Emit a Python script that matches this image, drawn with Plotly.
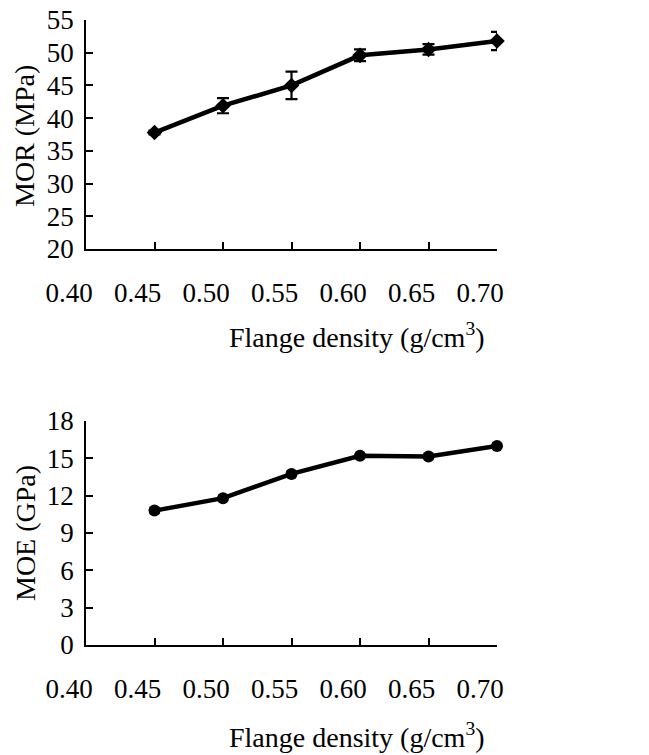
import plotly.graph_objects as go

density = [0.45, 0.50, 0.55, 0.60, 0.65, 0.70]
x_ticks = [0.40, 0.45, 0.50, 0.55, 0.60, 0.65, 0.70]
x_ticktext = ["0.40", "0.45", "0.50", "0.55", "0.60", "0.65", "0.70"]
mor = [37.8, 41.9, 45.0, 49.6, 50.5, 51.8]
mor_err = [0.3, 1.15, 2.1, 0.9, 0.8, 1.4]
moe = [10.8, 11.8, 13.75, 15.2, 15.15, 16.0]
moe_err = [0.2, 0.2, 0.2, 0.15, 0.15, 0.2]
mor_ticks = [20, 25, 30, 35, 40, 45, 50, 55]
moe_ticks = [0, 3, 6, 9, 12, 15, 18]

W, H = 649, 755
FONT = "Liberation Serif"
TICK = 27
TITLE = 28

fig = go.Figure()
fig.add_trace(go.Scatter(
    x=density, y=mor, mode="lines+markers", xaxis="x", yaxis="y",
    line=dict(color="black", width=4.5),
    marker=dict(symbol="diamond", size=12, color="black"),
    error_y=dict(type="data", array=mor_err, color="black", thickness=2.2, width=6),
    showlegend=False, cliponaxis=False))
fig.add_trace(go.Scatter(
    x=density, y=moe, mode="lines+markers", xaxis="x2", yaxis="y2",
    line=dict(color="black", width=4.5),
    marker=dict(symbol="circle", size=12, color="black"),
    error_y=dict(type="data", array=moe_err, color="black", thickness=2.2, width=5),
    showlegend=False, cliponaxis=False))

def xaxis(anchor):
    return dict(anchor=anchor, range=[0.40, 0.70], tickvals=x_ticks, ticktext=x_ticktext,
                ticks="inside", ticklen=7, tickwidth=1.8, tickcolor="black",
                showline=True, linecolor="black", linewidth=1.8, showgrid=False,
                zeroline=False, tickfont=dict(family=FONT, size=TICK, color="black"),
                ticklabelshift=-17, ticklabelstandoff=19)

def yaxis(anchor, rng, ticks, dom):
    return dict(anchor=anchor, range=rng, tickvals=ticks, domain=dom,
                ticks="inside", ticklen=7, tickwidth=1.8, tickcolor="black",
                showline=True, linecolor="black", linewidth=1.8, showgrid=False,
                zeroline=False, tickfont=dict(family=FONT, size=TICK, color="black"),
                ticklabelstandoff=5)

L, R = 86, 497
fig.update_layout(
    width=W, height=H, paper_bgcolor="white", plot_bgcolor="white",
    margin=dict(l=L, r=W - R, t=0, b=0, autoexpand=False),
    xaxis=xaxis("y"), xaxis2=xaxis("y2"),
    yaxis=yaxis("x", [20, 55], mor_ticks, [1 - 249 / H, 1 - 20 / H]),
    yaxis2=yaxis("x2", [0, 18], moe_ticks, [1 - 645 / H, 1 - 421 / H]),
)

def px_x(p):
    return (p - L) / (R - L)

def px_y(p):
    return 1 - p / H

ann = [
    dict(text="Flange density (g/cm<sup>3</sup>)", x=px_x(357), y=px_y(335)),
    dict(text="Flange density (g/cm<sup>3</sup>)", x=px_x(357), y=px_y(735)),
    dict(text="MOR (MPa)", x=px_x(25), y=px_y(136), textangle=-90),
    dict(text="MOE (GPa)", x=px_x(25), y=px_y(533), textangle=-90),
]
for a in ann:
    fig.add_annotation(xref="paper", yref="paper", showarrow=False,
                       xanchor="center", yanchor="middle",
                       font=dict(family=FONT, size=TITLE, color="black"), **a)

fig.write_html("out.html", config={"displayModeBar": False},
               post_script="document.body.style.margin='0';document.body.style.overflow='hidden';")
